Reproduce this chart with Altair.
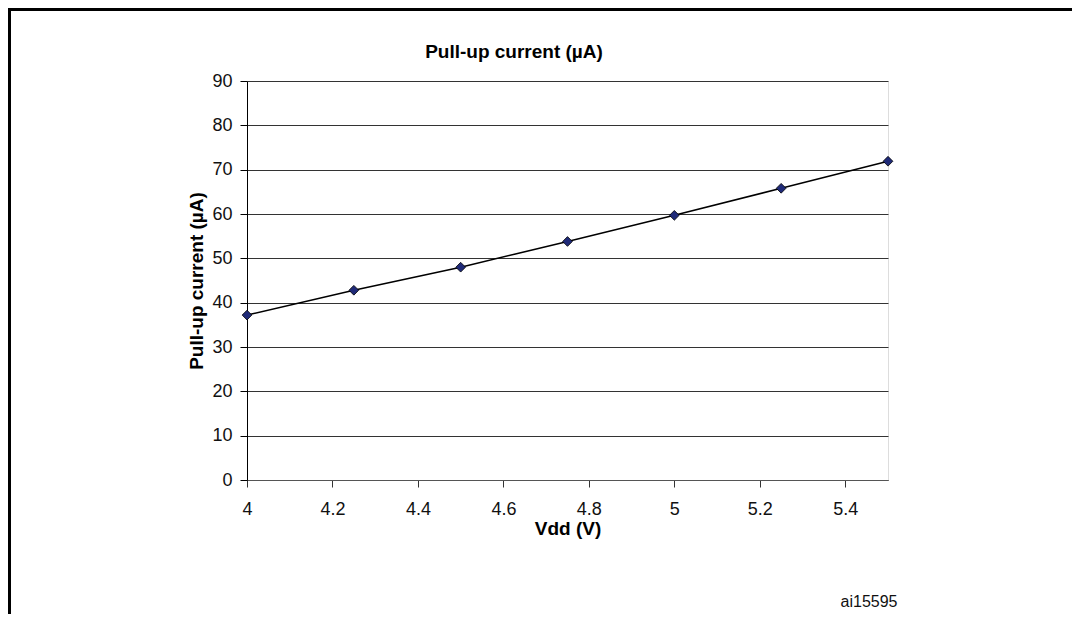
import altair as alt
import pandas as pd

# Data
vdd = [4.0, 4.25, 4.5, 4.75, 5.0, 5.25, 5.5]
current = [37.2, 42.8, 48.0, 53.8, 59.7, 65.8, 71.9]
x_ticks = [4.0, 4.2, 4.4, 4.6, 4.8, 5.0, 5.2, 5.4]
y_ticks = [0, 10, 20, 30, 40, 50, 60, 70, 80, 90]

df = pd.DataFrame({"vdd": vdd, "current": current})

FONT = "Liberation Sans"
PL, PT, W, H = 239, 73, 641, 399

x = alt.X("vdd:Q", scale=alt.Scale(domain=[4.0, 5.5], nice=False, zero=False),
          axis=alt.Axis(values=x_ticks, title="Vdd (V)", grid=False,
                        domainColor="#555555", tickColor="#333333", tickSize=7,
                        labelFontSize=18, labelPadding=13, labelColor="#111111",
                        labelFont=FONT, titleFont=FONT, titleFontSize=19,
                        titleFontWeight="bold", titleColor="#000000", titlePadding=1,
                        labelFlush=False, format="~g"))
y = alt.Y("current:Q", scale=alt.Scale(domain=[0, 90], nice=False),
          axis=alt.Axis(values=y_ticks, title="Pull-up current (µA)", grid=True,
                        gridColor="#333333", gridWidth=1, domainColor="#000000",
                        tickColor="#000000", tickSize=7, labelFontSize=18,
                        labelPadding=8, labelColor="#111111", labelFont=FONT,
                        titleFont=FONT, titleFontSize=19, titleFontWeight="bold",
                        titleColor="#000000", titlePadding=5))

line = alt.Chart(df).mark_line(color="#000000", strokeWidth=1.5).encode(x=x, y=y)
pts = alt.Chart(df).mark_point(shape="diamond", filled=True, fill="#1F2A78",
                               stroke="#000000", strokeWidth=0.8, size=95,
                               opacity=1).encode(x=x, y=y)

ann = pd.DataFrame({"t": ["x"]})
title = alt.Chart(ann).mark_text(text="Pull-up current (µA)", font=FONT, fontSize=19,
                                 fontWeight="bold", baseline="alphabetic",
                                 align="center", color="#000000").encode(
    x=alt.value(514 - 8 - PL), y=alt.value(58 - 8 - PT))
code = alt.Chart(ann).mark_text(text="ai15595", font=FONT, fontSize=16,
                                baseline="alphabetic", align="center",
                                color="#111111").encode(
    x=alt.value(869 - 8 - PL), y=alt.value(607 - 8 - PT))
border = alt.Chart(ann).mark_rect(fill=None, fillOpacity=0, stroke="#000000",
                                  strokeWidth=3).encode(
    x=alt.value(1.5 - PL), x2=alt.value(1200), y=alt.value(1.5 - PT), y2=alt.value(900))

chart = alt.layer(border, line, pts, title, code).properties(
    width=W, height=H,
    autosize=alt.AutoSizeParams(type="none"),
    padding={"left": PL, "top": PT, "right": 1064 - PL - W, "bottom": 606 - PT - H},
).configure_view(stroke="#999999", strokeWidth=1.5).configure(background="white")

chart.save("out.html", embed_options={"renderer": "svg", "actions": False})
